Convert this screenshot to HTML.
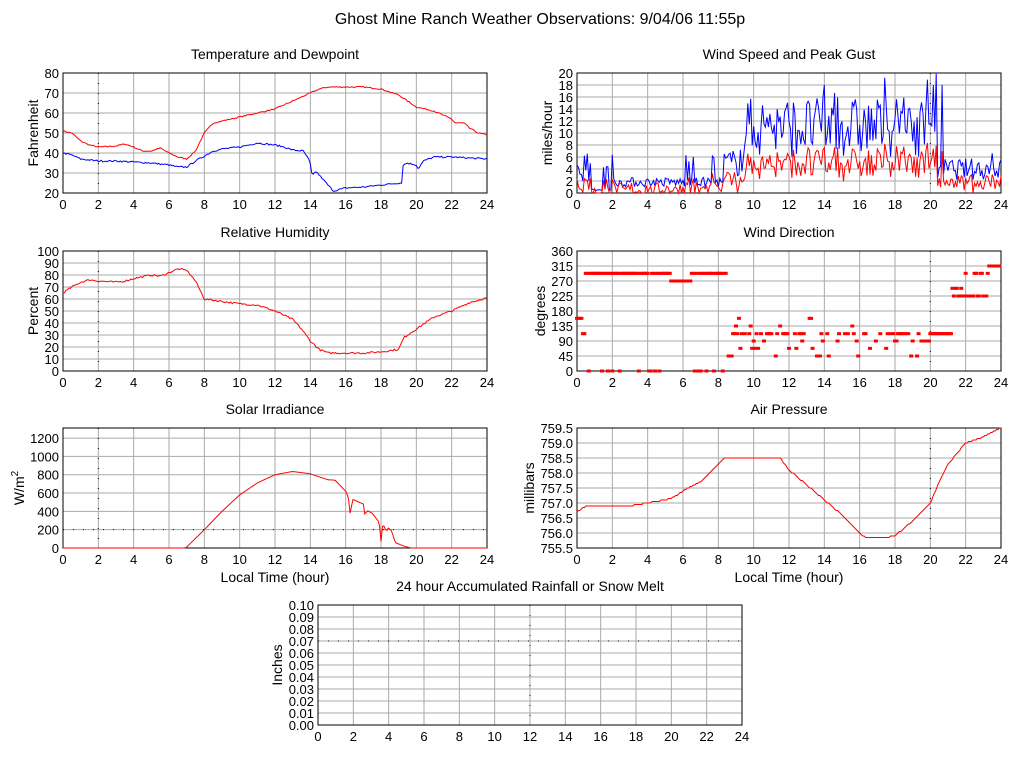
<!DOCTYPE html>
<html><head><meta charset="utf-8"><style>
html,body{margin:0;padding:0;background:#fff;}
svg{display:block;font-family:"Liberation Sans",sans-serif;}
</style></head><body>
<svg id="s" width="1024" height="768" xmlns="http://www.w3.org/2000/svg">
<text x="540" y="24" font-size="16" text-anchor="middle">Ghost Mine Ranch Weather Observations: 9/04/06 11:55p</text>
</svg>
<script>
var S=document.getElementById('s'),NS='http://www.w3.org/2000/svg';
function el(t,a,txt){var e=document.createElementNS(NS,t);for(var k in a)e.setAttribute(k,a[k]);if(txt!=null)e.textContent=txt;S.appendChild(e);return e;}
var seed=7;function rnd(){seed=(seed*16807)%2147483647;return seed/2147483647;}
function interp(k,h){for(var i=0;i<k.length-1;i++){if(h>=k[i][0]&&h<=k[i+1][0]){var t=(h-k[i][0])/(k[i+1][0]-k[i][0]||1);return k[i][1]+t*(k[i+1][1]-k[i][1]);}}return k[k.length-1][1];}
function chart(o){
 var x0=o.x,y0=o.y,w=424,h=120,X=function(v){return x0+v/24*w},Y=function(v){return y0+h-(v-o.min)/(o.max-o.min)*h};
 el('text',{x:x0+w/2,y:y0-14,'font-size':14,'text-anchor':'middle'},o.title);
 for(var i=0;i<=24;i+=2){var xx=X(i);el('line',{x1:xx,y1:y0,x2:xx,y2:y0+h,stroke:'#aaa','stroke-width':1});
  el('text',{x:xx,y:y0+h+16,'font-size':13,'text-anchor':'middle'},i);}
 o.ticks.forEach(function(t){var yy=Y(t);el('line',{x1:x0,y1:yy,x2:x0+w,y2:yy,stroke:'#aaa','stroke-width':1});
  el('text',{x:x0-4,y:yy+5,'font-size':13,'text-anchor':'end'},o.fmt?o.fmt(t):t);});
 if(o.dot!=null)el('line',{x1:X(o.dot),y1:y0,x2:X(o.dot),y2:y0+h,stroke:'#000','stroke-width':1,'stroke-dasharray':'1,9'});
 if(o.hdot!=null)el('line',{x1:x0,y1:Y(o.hdot),x2:x0+w,y2:Y(o.hdot),stroke:'#000','stroke-width':1,'stroke-dasharray':'1,9'});
 el('rect',{x:x0,y:y0,width:w,height:h,fill:'none',stroke:'#000','stroke-width':1});
 var yl=el('text',{x:0,y:0,'font-size':14,'text-anchor':'middle',transform:'translate('+(o.ylx)+','+(y0+h/2)+') rotate(-90)'},o.ylab);
 if(o.sup){yl.textContent='W/m';var ts=document.createElementNS(NS,'tspan');ts.setAttribute('dy','-6');ts.setAttribute('font-size','10');ts.textContent='2';yl.appendChild(ts);}
 if(o.xl)el('text',{x:x0+w/2,y:y0+h+34,'font-size':14,'text-anchor':'middle'},'Local Time (hour)');
 (o.series||[]).forEach(function(s){var pts=[];for(var i=0;i<=288;i++){var hh=i/12;var v=s.f(hh);v=Math.max(o.min,Math.min(o.max,v));pts.push(X(hh).toFixed(1)+','+Y(v).toFixed(1));}
  el('polyline',{points:pts.join(' '),fill:'none',stroke:s.c,'stroke-width':1});});
 return {X:X,Y:Y};
}
var T=[[0,51],[0.5,50],[1,46],[1.5,44],[2,43],[3,43.5],[3.5,44.5],[4,43],[4.5,41],[5,41],[5.5,42.5],[6,40],[6.5,38],[7,37],[7.5,41],[8,50],[8.5,55],[9,56],[10,58],[11,60],[12,62],[13,66],[14,70],[14.5,72],[15,73],[16,73],[17,73],[18,72],[19,69],[19.5,66],[20,63],[21,61],[22,57],[22.2,55],[22.7,55],[23,52.5],[23.5,50],[24,49]];
var D=[[0,40],[0.5,39],[1,37],[2,36],[3,36],[4,35.5],[5,35],[6,34],[6.5,33],[7,33],[7.5,36],[8,38.5],[8.5,41],[9,42],[10,43],[11,45],[12,44],[12.5,43],[13,41.5],[13.6,41],[13.9,37],[14.05,33],[14.1,28],[14.3,31],[14.7,27],[15,24],[15.3,21],[16,22.5],[17,23],[18,24],[19,25],[19.2,25],[19.25,34],[19.5,35],[20,34],[20.1,32],[20.4,36],[21,38],[22,38],[23,37.5],[24,37]];
chart({x:63,y:73,min:20,max:80,ticks:[20,30,40,50,60,70,80],title:'Temperature and Dewpoint',ylab:'Fahrenheit',ylx:38,dot:2,
 series:[{c:'#f00',f:function(h){return interp(T,h)+(rnd()-0.5)*0.6}},{c:'#00f',f:function(h){return interp(D,h)+(rnd()-0.5)*0.8}}]});
var R=[[0,65],[0.5,70],[1,74],[1.5,76],[2,75],[3,74],[3.5,75],[4,77],[5,80],[5.5,79],[6,82],[6.5,85],[7,84],[7.5,75],[8,60],[9,58],[10,56],[11,55],[12,50],[13,43],[13.5,35],[14,25],[14.5,18],[15,15],[16,15],[17,15],[18,16],[19,18],[19.3,28],[20,35],[21,45],[22,50],[23,57],[24,61]];
chart({x:63,y:251,min:0,max:100,ticks:[0,10,20,30,40,50,60,70,80,90,100],title:'Relative Humidity',ylab:'Percent',ylx:38,dot:2,
 series:[{c:'#f00',f:function(h){return interp(R,h)+(rnd()-0.5)*1.5}}]});
var SO=[[0,0],[6.9,0],[7,10],[8,200],[9,400],[10,580],[11,710],[12,800],[13,835],[14,810],[15,745],[15.4,740],[16,620],[16.15,560],[16.25,380],[16.4,530],[17,480],[17.1,350],[17.2,410],[17.5,380],[17.9,280],[18,70],[18.1,270],[18.3,180],[18.4,220],[18.6,190],[18.8,60],[19.3,20],[19.7,0],[24,0]];
chart({x:63,y:428,min:0,max:1310,ticks:[0,200,400,600,800,1000,1200],title:'Solar Irradiance',ylab:'W/m2',sup:true,ylx:24,dot:2,hdot:200,xl:true,
 series:[{c:'#f00',f:function(h){return interp(SO,h)}}]});
var P=[[0,756.7],[0.5,756.9],[3,756.9],[4,757.0],[5,757.1],[5.5,757.2],[6,757.4],[7,757.7],[7.5,758.0],[8,758.3],[8.3,758.5],[11.5,758.5],[12,758.1],[13,757.6],[14,757.1],[15,756.6],[16,756.0],[16.3,755.85],[17.5,755.85],[18,755.9],[19,756.4],[20,757.0],[20.5,757.7],[21,758.3],[22,759.0],[23,759.2],[24,759.5]];
chart({x:577,y:428,min:755.5,max:759.5,ticks:[755.5,756,756.5,757,757.5,758,758.5,759,759.5],fmt:function(t){return t.toFixed(1)},title:'Air Pressure',ylab:'millibars',ylx:534,dot:20,xl:true,
 series:[{c:'#f00',f:function(h){return Math.round(interp(P,h)*20)/20}}]});
function gust(h){var b=h<8.3?(h<0.8?3.5:h<2?0.5:1.8):h<9.5?5:h<19.8?11:h<20.4?14:4;return Math.max(0,b+(rnd()-0.5)*b*0.9+(rnd()<0.05?4:0));}
var g=[];for(var i=0;i<=288;i++)g.push(gust(i/12));g[48*6-40]=18;g[242]=18;g[168]=18;
var sp=g.map(function(v,i){return Math.max(0,v*0.45+(rnd()-0.6)*2);});
chart({x:577,y:73,min:0,max:20,ticks:[0,2,4,6,8,10,12,14,16,18,20],title:'Wind Speed and Peak Gust',ylab:'miles/hour',ylx:552,dot:20,
 series:[{c:'#00f',f:function(h){return g[Math.round(h*12)]}},{c:'#f00',f:function(h){return sp[Math.round(h*12)]}}]});
var wd=chart({x:577,y:251,min:0,max:360,ticks:[0,45,90,135,180,225,270,315,360],title:'Wind Direction',ylab:'degrees',ylx:545,dot:20});
for(var i=0;i<288;i++){var h=i/12,v;var r=rnd();
 if(h<0.5)v=r<0.2?112:158;else if(h<5.3)v=r<0.15?0:293;else if(h<6.5)v=270;else if(h<8.5)v=r<0.3?0:293;
 else if(h<19.5){if(rnd()<0.4)continue;var c=[112,112,112,112,135,158,90,68,45,112];v=c[Math.floor(r*c.length)];if(h>16.3&&h<19.5&&r<0.6)v=112;}
 else if(h<20)v=90;else if(h<21.2)v=112;else if(h<22)v=r<0.5?225:248;else if(h<23.3)v=r<0.5?225:293;else v=315;
 el('rect',{x:wd.X(h)-2,y:wd.Y(v)-1.5,width:4,height:3,fill:'#f00'});}
chart({x:318,y:605,min:0,max:0.1,ticks:[0,0.01,0.02,0.03,0.04,0.05,0.06,0.07,0.08,0.09,0.1],fmt:function(t){return t.toFixed(2)},title:'24 hour Accumulated Rainfall or Snow Melt',ylab:'Inches',ylx:282,dot:12,hdot:0.07});
</script>
</body></html>
